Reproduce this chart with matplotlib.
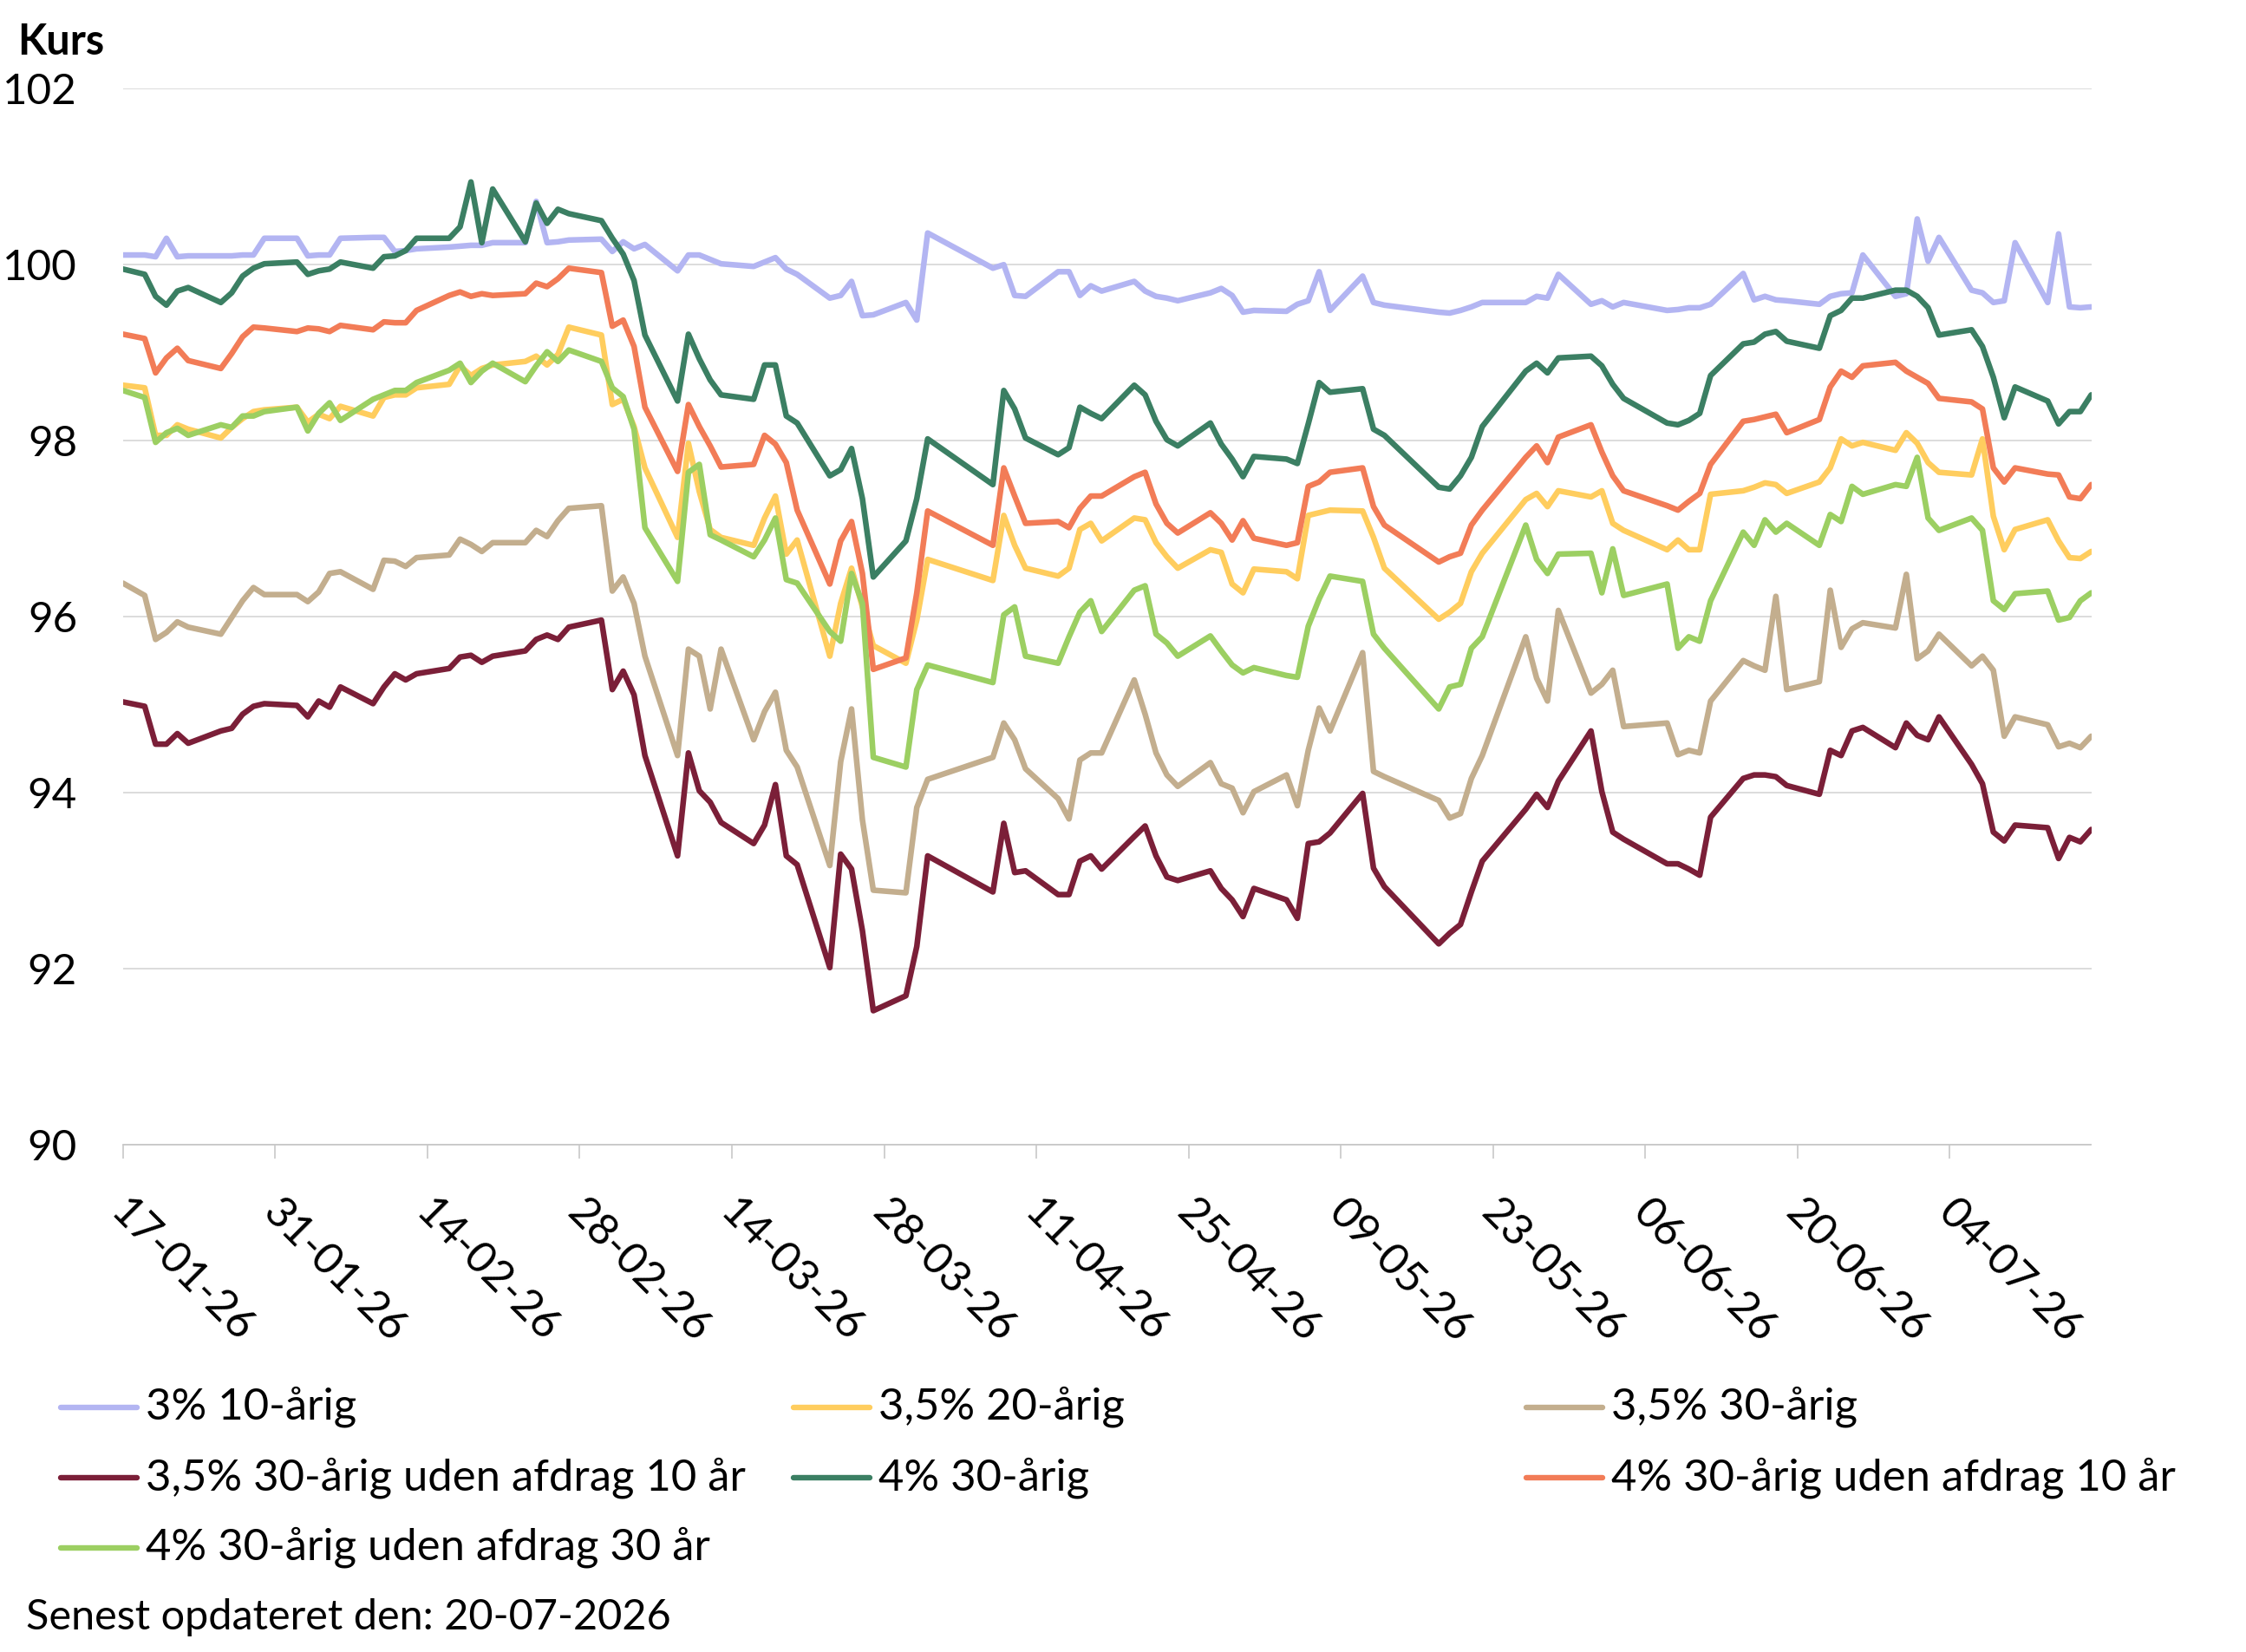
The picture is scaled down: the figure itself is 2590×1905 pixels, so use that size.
import matplotlib
matplotlib.use("Agg")
import matplotlib.pyplot as plt
import matplotlib.dates as mdates
from matplotlib.lines import Line2D
from datetime import datetime, timedelta

plt.rcParams['font.family'] = ['Lato', 'DejaVu Sans']

# ---------------- data ----------------
trading_days = {
    1: [17, 19, 20, 21, 22, 23, 26, 27, 28, 29, 30],
    2: [2, 3, 4, 5, 6, 9, 10, 11, 12, 13, 16, 17, 18, 19, 20, 23, 24, 25, 26, 27],
    3: [2, 3, 4, 5, 6, 9, 10, 11, 12, 13, 16, 17, 18, 19, 20, 23, 24, 25, 26, 27, 30, 31],
    4: [1, 7, 8, 9, 10, 13, 14, 15, 16, 17, 20, 21, 22, 23, 24, 27, 28, 29, 30],
    5: [1, 4, 5, 6, 7, 8, 11, 12, 13, 18, 19, 20, 21, 22, 26, 27, 28, 29],
    6: [1, 2, 3, 4, 8, 9, 10, 11, 12, 15, 16, 17, 18, 19, 22, 23, 24, 25, 26, 29, 30],
    7: [1, 2, 3, 6, 7, 8, 9, 10, 13, 14, 15, 16, 17],
}
dates = [datetime(2026, m, d) for m in sorted(trading_days) for d in trading_days[m]]

kurs_3_10 = [
    100.11, 100.11, 100.09, 100.30, 100.09, 100.10, 100.10, 100.10, 100.11, 100.11, 100.30,
    100.30, 100.10, 100.11, 100.11, 100.30, 100.31, 100.31, 100.15, 100.16, 100.18,
    100.20, 100.21, 100.22, 100.22, 100.25, 100.25, 100.72, 100.25, 100.26, 100.28,
    100.29, 100.15, 100.26, 100.18, 100.23, 99.93, 100.11, 100.11, 100.06, 100.01,
    99.98, 100.03, 100.08, 99.95, 99.89, 99.62, 99.65, 99.81, 99.42, 99.43, 99.57, 99.37,
    100.36, 99.96, 100.00, 99.65, 99.64, 99.92, 99.92, 99.65, 99.76, 99.70,
    99.81, 99.70, 99.64, 99.62, 99.59, 99.68, 99.73, 99.65, 99.46,
    99.48, 99.47, 99.55, 99.59, 99.92, 99.48, 99.87, 99.57, 99.54,
    99.46, 99.45, 99.48, 99.52, 99.57, 99.57, 99.64, 99.62, 99.89,
    99.55, 99.59, 99.52, 99.57, 99.48, 99.49, 99.51, 99.51, 99.55,
    99.90, 99.60, 99.64, 99.60, 99.59, 99.55, 99.64, 99.67, 99.68, 100.11, 99.64, 99.67,
    100.52, 100.04, 100.31, 99.71, 99.68, 99.57, 99.59, 100.25, 99.57, 100.35, 99.52, 99.51, 99.52,
]
kurs_35_20 = [
    98.63, 98.60, 98.06, 98.06, 98.18, 98.13, 98.03, 98.15, 98.25, 98.33, 98.35,
    98.38, 98.21, 98.30, 98.25, 98.39, 98.28, 98.49, 98.52, 98.52, 98.60,
    98.64, 98.85, 98.74, 98.82, 98.86, 98.90, 98.96, 98.86, 98.98, 99.29,
    99.20, 98.41, 98.47, 98.16, 97.69, 96.90, 97.97, 97.42, 96.99, 96.90,
    96.81, 97.12, 97.37, 96.71, 96.87, 95.55, 96.15, 96.55, 96.11, 95.67, 95.47, 95.96,
    96.65, 96.41, 97.15, 96.81, 96.55, 96.46, 96.55, 96.99, 97.06, 96.86,
    97.12, 97.10, 96.84, 96.68, 96.55, 96.76, 96.73, 96.37, 96.27,
    96.54, 96.51, 96.43, 97.15, 97.18, 97.21, 97.20, 96.90, 96.55,
    95.97, 96.05, 96.15, 96.51, 96.72, 97.33, 97.40, 97.25, 97.43,
    97.36, 97.43, 97.06, 96.98, 96.76, 96.87, 96.76, 96.76, 97.39,
    97.43, 97.47, 97.52, 97.50, 97.40, 97.53, 97.69, 98.02, 97.94, 97.98, 97.89, 98.09,
    97.97, 97.75, 97.64, 97.61, 98.02, 97.14, 96.76, 96.99, 97.10, 96.86, 96.67, 96.66, 96.74,
]
kurs_35_30 = [
    96.38, 96.24, 95.74, 95.82, 95.94, 95.88, 95.80, 95.99, 96.18, 96.33, 96.25,
    96.25, 96.17, 96.28, 96.49, 96.51, 96.31, 96.64, 96.63, 96.57, 96.67,
    96.70, 96.88, 96.82, 96.74, 96.84, 96.84, 96.98, 96.91, 97.09, 97.23,
    97.26, 96.29, 96.45, 96.15, 95.55, 94.42, 95.63, 95.55, 94.95, 95.63,
    94.60, 94.92, 95.14, 94.48, 94.29, 93.17, 94.35, 94.95, 93.69, 92.89, 92.86, 93.83,
    94.15, 94.40, 94.79, 94.60, 94.27, 93.93, 93.70, 94.37, 94.45, 94.45,
    95.28, 94.89, 94.45, 94.20, 94.07, 94.34, 94.10, 94.05, 93.77,
    94.01, 94.20, 93.85, 94.48, 94.96, 94.70, 95.59, 94.24, 94.18,
    93.91, 93.71, 93.76, 94.16, 94.42, 95.77, 95.30, 95.04, 96.07,
    95.13, 95.23, 95.39, 94.75, 94.79, 94.43, 94.48, 94.45, 95.04,
    95.50, 95.44, 95.39, 96.23, 95.17, 95.26, 96.30, 95.65, 95.86, 95.93, 95.87, 96.48,
    95.52, 95.61, 95.80, 95.44, 95.55, 95.39, 94.64, 94.86, 94.77, 94.52, 94.56, 94.51, 94.64,
]
kurs_35_30_io10 = [
    95.03, 94.98, 94.55, 94.55, 94.67, 94.56, 94.70, 94.73, 94.89, 94.98, 95.01,
    94.99, 94.86, 95.04, 94.97, 95.20, 95.01, 95.20, 95.35, 95.28, 95.35,
    95.41, 95.54, 95.56, 95.48, 95.55, 95.61, 95.74, 95.79, 95.74, 95.88,
    95.96, 95.17, 95.38, 95.11, 94.42, 93.28, 94.45, 94.02, 93.89, 93.66,
    93.42, 93.63, 94.09, 93.28, 93.18, 92.01, 93.30, 93.13, 92.43, 91.52, 91.69, 92.25,
    93.28, 92.87, 93.65, 93.09, 93.11, 92.84, 92.84, 93.22, 93.28, 93.13,
    93.50, 93.62, 93.28, 93.04, 93.00, 93.11, 92.91, 92.78, 92.59,
    92.91, 92.78, 92.57, 93.42, 93.44, 93.54, 93.99, 93.14, 92.93,
    92.28, 92.40, 92.50, 92.87, 93.22, 93.81, 93.98, 93.83, 94.13,
    94.70, 94.01, 93.55, 93.47, 93.19, 93.19, 93.13, 93.06, 93.72,
    94.16, 94.20, 94.20, 94.18, 94.08, 93.98, 94.48, 94.42, 94.70, 94.74, 94.51, 94.79,
    94.65, 94.60, 94.86, 94.32, 94.10, 93.55, 93.45, 93.63, 93.60, 93.25, 93.49, 93.44, 93.58,
]
kurs_4_30 = [
    99.95, 99.89, 99.64, 99.54, 99.70, 99.74, 99.57, 99.68, 99.87, 99.96, 100.01,
    100.03, 99.89, 99.93, 99.95, 100.03, 99.96, 100.09, 100.10, 100.16, 100.30,
    100.30, 100.43, 100.94, 100.25, 100.86, 100.26, 100.70, 100.47, 100.63, 100.58,
    100.50, 100.30, 100.12, 99.82, 99.20, 98.45, 99.21, 98.93, 98.69, 98.52,
    98.47, 98.86, 98.86, 98.28, 98.20, 97.60, 97.67, 97.91, 97.34, 96.45, 96.86, 97.34,
    98.02, 97.50, 98.57, 98.36, 98.03, 97.84, 97.92, 98.38, 98.31, 98.25,
    98.63, 98.52, 98.22, 98.01, 97.94, 98.20, 97.96, 97.79, 97.59,
    97.82, 97.79, 97.74, 98.19, 98.66, 98.55, 98.59, 98.13, 98.06,
    97.47, 97.45, 97.60, 97.81, 98.16, 98.79, 98.88, 98.77, 98.94,
    98.96, 98.85, 98.64, 98.48, 98.20, 98.18, 98.23, 98.31, 98.74,
    99.10, 99.12, 99.21, 99.24, 99.13, 99.05, 99.42, 99.48, 99.62, 99.62, 99.71, 99.71,
    99.64, 99.51, 99.20, 99.26, 99.07, 98.72, 98.26, 98.61, 98.45, 98.19, 98.33, 98.33, 98.52,
]
kurs_4_30_io10 = [
    99.21, 99.16, 98.77, 98.94, 99.05, 98.91, 98.82, 98.99, 99.18, 99.29, 99.28,
    99.24, 99.28, 99.27, 99.24, 99.31, 99.26, 99.35, 99.34, 99.34, 99.48,
    99.65, 99.69, 99.64, 99.67, 99.65, 99.67, 99.79, 99.75, 99.84, 99.96,
    99.91, 99.30, 99.37, 99.07, 98.38, 97.65, 98.41, 98.16, 97.94, 97.70,
    97.73, 98.06, 97.96, 97.75, 97.21, 96.37, 96.86, 97.08, 96.49, 95.40, 95.53, 96.27,
    97.20, 96.81, 97.69, 97.37, 97.06, 97.08, 97.01, 97.23, 97.37, 97.37,
    97.59, 97.64, 97.28, 97.06, 96.95, 97.18, 97.06, 96.87, 97.09,
    96.89, 96.81, 96.84, 97.48, 97.53, 97.64, 97.69, 97.25, 97.04,
    96.62, 96.68, 96.72, 97.04, 97.21, 97.81, 97.94, 97.75, 98.04,
    98.18, 97.87, 97.60, 97.43, 97.26, 97.21, 97.31, 97.40, 97.73,
    98.22, 98.24, 98.27, 98.30, 98.09, 98.24, 98.61, 98.79, 98.72, 98.85, 98.89, 98.79,
    98.72, 98.65, 98.48, 98.44, 98.36, 97.69, 97.53, 97.69, 97.62, 97.61, 97.36, 97.34, 97.50,
]
kurs_4_30_io30 = [
    98.57, 98.49, 97.98, 98.09, 98.14, 98.06, 98.18, 98.15, 98.28, 98.28, 98.33,
    98.38, 98.11, 98.31, 98.43, 98.23, 98.47, 98.52, 98.57, 98.57, 98.66,
    98.80, 98.88, 98.66, 98.79, 98.88, 98.67, 98.85, 99.01, 98.90, 99.03,
    98.90, 98.60, 98.50, 98.13, 97.01, 96.40, 97.64, 97.73, 96.93, 96.87,
    96.68, 96.87, 97.12, 96.42, 96.38, 95.83, 95.72, 96.49, 96.15, 94.40, 94.29, 95.17,
    95.45, 95.25, 96.02, 96.11, 95.55, 95.47, 95.77, 96.05, 96.18, 95.83,
    96.30, 96.35, 95.80, 95.70, 95.55, 95.78, 95.61, 95.45, 95.36,
    95.42, 95.33, 95.31, 95.89, 96.20, 96.46, 96.40, 95.80, 95.64,
    94.95, 95.20, 95.23, 95.64, 95.77, 97.04, 96.65, 96.49, 96.71,
    96.72, 96.27, 96.77, 96.24, 96.37, 95.64, 95.77, 95.72, 96.18,
    96.96, 96.81, 97.10, 96.96, 97.06, 96.81, 97.16, 97.08, 97.48, 97.39, 97.50, 97.48,
    97.81, 97.12, 96.98, 97.12, 96.98, 96.18, 96.08, 96.26, 96.29, 95.96, 95.99, 96.18, 96.27,
]

series_labels = [
    "3% 10-årig",
    "3,5% 20-årig",
    "3,5% 30-årig",
    "3,5% 30-årig uden afdrag 10 år",
    "4% 30-årig",
    "4% 30-årig uden afdrag 10 år",
    "4% 30-årig uden afdrag 30 år",
]
series_values = [kurs_3_10, kurs_35_20, kurs_35_30, kurs_35_30_io10,
                 kurs_4_30, kurs_4_30_io10, kurs_4_30_io30]
series_colors = ["#b3b5f2", "#ffcd5e", "#c3ae8e", "#7b1f38",
                 "#3b7f63", "#f27c57", "#9ccf62"]

y_ticks = [90, 92, 94, 96, 98, 100, 102]
x_tick_dates = [datetime(2026, 1, 17) + timedelta(days=14 * k) for k in range(13)]
updated_text = "Senest opdateret den: 20-07-2026"
y_title = "Kurs"

# ---------------- figure ----------------
W, H, DPI = 2590, 1905, 100
fig = plt.figure(figsize=(W / DPI, H / DPI), dpi=DPI)
fig.patch.set_facecolor("white")

def px(x, y):
    return x / W, 1 - y / H

left, right = 141.8, 2411.5
top, bottom = 102.3, 1319.7
ax = fig.add_axes([left / W, 1 - bottom / H, (right - left) / W, (bottom - top) / H])

for vals, col in zip(series_values, series_colors):
    ax.plot(dates, vals, color=col, lw=4.7, solid_joinstyle="round",
            solid_capstyle="round", zorder=3)

ax.set_ylim(90, 102)
ax.set_xlim(dates[0], dates[-1])
ax.set_yticks(y_ticks)
ax.set_yticklabels([str(v) for v in y_ticks], fontsize=35.5)
ax.tick_params(axis="y", length=0, pad=38)
ax.yaxis.grid(True, color="#d9d9d9", lw=1.3, zorder=0)
ax.set_axisbelow(True)
for s in ["top", "left", "right"]:
    ax.spines[s].set_visible(False)
ax.spines["bottom"].set_color("#c8c8c8")
ax.spines["bottom"].set_linewidth(1.3)

ax.set_xticks(x_tick_dates)
ax.set_xticklabels([])
ax.tick_params(axis="x", length=11.5, width=1.2, color="#c8c8c8", direction="out")
for t in x_tick_dates:
    ax.annotate(t.strftime("%d-%m-%y"), xy=(mdates.date2num(t), 0),
                xycoords=("data", "axes fraction"), xytext=(7.0, -39.5),
                textcoords="offset points", rotation=-45, rotation_mode="anchor",
                ha="left", va="top", fontsize=36, annotation_clip=False)

# y title
fig.text(*px(20, 63), y_title, fontsize=35, fontweight="bold", ha="left", va="baseline")

# legend (manual, row-major, 3 columns)
col_x = [67, 912, 1757]
row_y = [1623, 1704, 1785]
for i, (lab, col) in enumerate(zip(series_labels, series_colors)):
    r, c = divmod(i, 3)
    x0 = col_x[c]
    y0 = row_y[r]
    fig.add_artist(Line2D([(x0 + 3) / W, (x0 + 91) / W], [1 - y0 / H] * 2,
                          transform=fig.transFigure, color=col, lw=4.6,
                          solid_capstyle="round"))
    fig.text(*px(x0 + 101, y0 + 14), lab, fontsize=36.5, ha="left", va="baseline")

fig.text(*px(30, 1879), updated_text, fontsize=35, ha="left", va="baseline")

fig.savefig("out.png", dpi=DPI, facecolor="white")
